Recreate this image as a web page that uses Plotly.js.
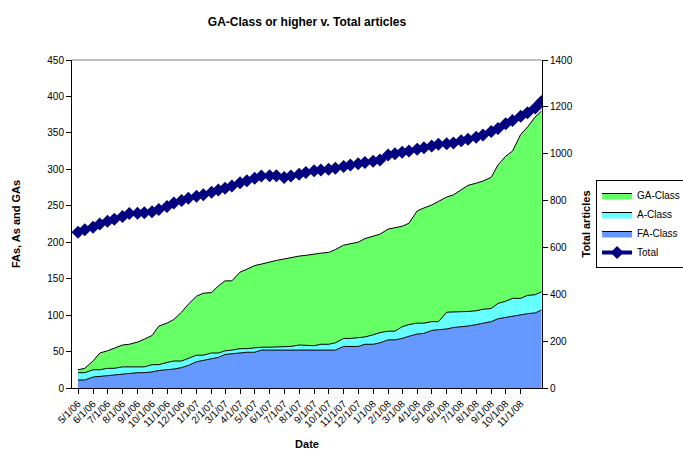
<!DOCTYPE html>
<html>
<head>
<meta charset="utf-8">
<script src="https://cdn.plot.ly/plotly-3.0.1.min.js"></script>
<style>html,body{margin:0;padding:0;background:#fff;}#chart{width:683px;height:467px;}</style>
</head>
<body>
<div id="chart"></div>
<script>
const dates = [
 '2006-05-01','2006-05-15','2006-06-01','2006-06-15','2006-07-01','2006-07-15','2006-08-01','2006-08-15',
 '2006-09-01','2006-09-15','2006-10-01','2006-10-15','2006-11-01','2006-11-15','2006-12-01','2006-12-15',
 '2007-01-01','2007-01-15','2007-02-01','2007-02-15','2007-03-01','2007-03-15','2007-04-01','2007-04-15',
 '2007-05-01','2007-05-15','2007-06-01','2007-06-15','2007-07-01','2007-07-15','2007-08-01','2007-08-15',
 '2007-09-01','2007-09-15','2007-10-01','2007-10-15','2007-11-01','2007-11-15','2007-12-01','2007-12-15',
 '2008-01-01','2008-01-15','2008-02-01','2008-02-15','2008-03-01','2008-03-15','2008-04-01','2008-04-15',
 '2008-05-01','2008-05-15','2008-06-01','2008-06-15','2008-07-01','2008-07-15','2008-08-01','2008-08-15',
 '2008-09-01','2008-09-15','2008-10-01','2008-10-15','2008-11-01','2008-11-15','2008-12-01','2008-12-14'
];
const faClass = [11,11,15,16,17,18,19,20,21,21,22,24,25,26,28,31,36,38,41,42,46,47,48,49,49,52,52,52,52,52,52,52,
 52,52,52,52,57,57,57,60,60,62,66,66,68,71,74,75,79,80,81,83,84,85,87,89,91,95,97,98,100,102,103,107];
const aClass = [10,10,10,9,10,9,10,9,8,8,10,8,10,11,9,10,9,7,7,6,5,5,6,5,6,4,4,4,4,5,7,7,
 6,8,8,10,11,11,12,10,13,14,12,12,16,16,15,14,12,11,23,21,20,20,19,19,18,21,22,25,23,25,25,25];
const gaClass = [4,6,12,23,24,28,30,31,34,38,40,53,54,57,67,74,81,85,83,92,96,95,105,109,113,114,117,119,121,122,122,123,
 126,125,126,128,128,130,131,135,135,135,140,142,138,139,154,158,160,165,158,161,168,173,175,176,180,190,199,202,225,231,244,248];
const totalArticles = [665,675,686,700,712,720,732,745,746,748,752,762,775,790,800,810,818,825,835,845,853,862,876,885,
 895,905,906,906,899,905,912,920,927,930,934,938,945,952,957,962,968,973,995,1000,1006,1012,1019,1025,
 1033,1040,1042,1046,1055,1062,1070,1080,1095,1108,1128,1142,1160,1175,1195,1223];
const tickDates = ['2006-05-01','2006-06-01','2006-07-01','2006-08-01','2006-09-01','2006-10-01','2006-11-01','2006-12-01',
 '2007-01-01','2007-02-01','2007-03-01','2007-04-01','2007-05-01','2007-06-01','2007-07-01','2007-08-01','2007-09-01',
 '2007-10-01','2007-11-01','2007-12-01','2008-01-01','2008-02-01','2008-03-01','2008-04-01','2008-05-01','2008-06-01',
 '2008-07-01','2008-08-01','2008-09-01','2008-10-01','2008-11-01'];
const tickLabels = ['5/1/06','6/1/06','7/1/06','8/1/06','9/1/06','10/1/06','11/1/06','12/1/06','1/1/07','2/1/07','3/1/07',
 '4/1/07','5/1/07','6/1/07','7/1/07','8/1/07','9/1/07','10/1/07','11/1/07','12/1/07','1/1/08','2/1/08','3/1/08','4/1/08',
 '5/1/08','6/1/08','7/1/08','8/1/08','9/1/08','10/1/08','11/1/08'];

const FONT = 'Liberation Sans, Arial, sans-serif';
const traces = [
  {x: dates, y: faClass, name: 'FA-Class', type: 'scatter', mode: 'lines', stackgroup: 'one',
   fillcolor: '#6699FF', line: {color: '#000000', width: 1}, legendrank: 3},
  {x: dates, y: aClass, name: 'A-Class', type: 'scatter', mode: 'lines', stackgroup: 'one',
   fillcolor: '#66FFFF', line: {color: '#000000', width: 1}, legendrank: 2},
  {x: dates, y: gaClass, name: 'GA-Class', type: 'scatter', mode: 'lines', stackgroup: 'one',
   fillcolor: '#66FF66', line: {color: '#000000', width: 1}, legendrank: 1},
  {x: dates, y: totalArticles, name: 'Total', type: 'scatter', mode: 'lines+markers', yaxis: 'y2',
   line: {color: '#000080', width: 4}, marker: {symbol: 'diamond', size: 10, color: '#000080'}, legendrank: 4}
];
const layout = {
  width: 683, height: 467,
  margin: {l: 72, r: 141, t: 60, b: 79, autoexpand: false},
  paper_bgcolor: '#ffffff', plot_bgcolor: '#ffffff',
  font: {family: FONT, size: 10, color: '#000000'},
  title: {text: '<b>GA-Class or higher v. Total articles</b>', font: {family: FONT, size: 12, color: '#000'},
          x: 0.5, xref: 'paper', y: 1 - 22/467, yref: 'container', yanchor: 'middle'},
  xaxis: {type: 'date', range: ['2006-04-18 14:00', '2008-12-15'], tickvals: tickDates, ticktext: tickLabels,
          tickangle: -45, ticks: 'outside', ticklen: 5, tickcolor: '#000', showline: true, linecolor: '#000',
          showgrid: false, zeroline: false, tickfont: {size: 10},
          title: {text: '<b>Date</b>', font: {size: 11}, standoff: 11}},
  yaxis: {range: [0, 450], dtick: 50, tick0: 0, ticks: 'outside', ticklen: 5, tickcolor: '#000',
          showline: true, linecolor: '#000', showgrid: false, zeroline: false, tickfont: {size: 10},
          title: {text: '<b>FAs, As and GAs</b>', font: {size: 11}, standoff: 24}},
  yaxis2: {overlaying: 'y', side: 'right', range: [0, 1400], dtick: 200, tick0: 0, ticks: 'outside', ticklen: 5,
           tickcolor: '#000', showline: true, linecolor: '#000', showgrid: false, zeroline: false, tickfont: {size: 10},
           title: {text: '<b>Total articles</b>', font: {size: 11}, standoff: 10}},
  legend: {x: 1.115, y: 0.5, xanchor: 'left', yanchor: 'middle', bordercolor: '#000', borderwidth: 1,
           bgcolor: '#fff', font: {size: 10}, tracegroupgap: 0, traceorder: 'normal', itemwidth: 30},
  shapes: [{type: 'line', xref: 'paper', yref: 'paper', x0: 0, x1: 1, y0: 1, y1: 1, line: {color: '#808080', width: 1}}],
  showlegend: true
};
Plotly.newPlot('chart', traces, layout, {displayModeBar: false, staticPlot: true});
</script>
</body>
</html>
